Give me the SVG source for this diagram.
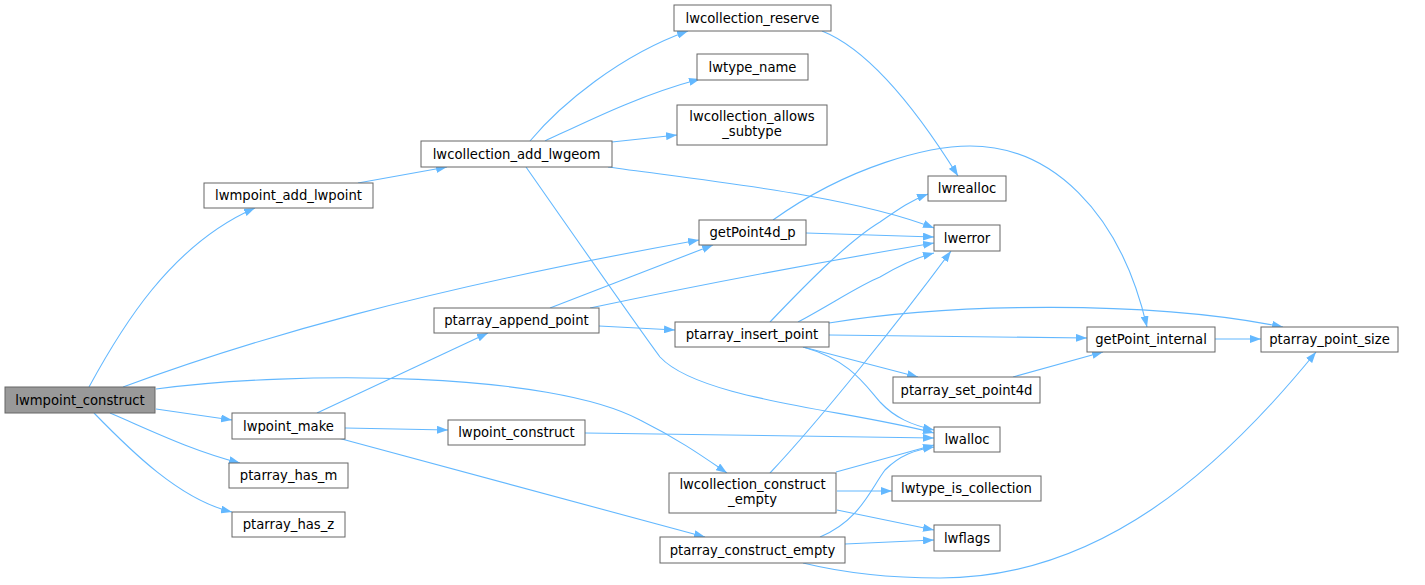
<svg xmlns="http://www.w3.org/2000/svg" width="1425" height="585" viewBox="0 0 1425 585">
<style>
.n rect{fill:#fff;stroke:#666;stroke-width:1}
.n.root rect{fill:#999}
.n text{font-family:"DejaVu Sans",sans-serif;font-size:13.2px;fill:#000;text-anchor:middle}
#edges path{fill:none;stroke:#63b8ff;stroke-width:1.1;marker-end:url(#a)}
</style>
<defs>
<marker id="a" viewBox="0 0 11 8" refX="11" refY="4" markerWidth="11" markerHeight="8" markerUnits="userSpaceOnUse" orient="auto"><path d="M0,0 L11,4 L0,8z" fill="#63b8ff"/></marker>
</defs>
<rect width="1425" height="585" fill="#fff"/>
<g id="edges">
<path d="M89,387 C120,330 170,245 255,208"/>
<path d="M123,387 C250,340 420,290 699,240"/>
<path d="M156,389 C300,370 550,372 640,420 C680,440 705,458 727,473"/>
<path d="M156,409 L232,420"/>
<path d="M110,413 C150,430 190,450 240,463"/>
<path d="M94,413 C130,450 180,500 232,512"/>
<path d="M358,183 L447,167"/>
<path d="M530,141 C560,105 620,55 688,31"/>
<path d="M545,141 C590,120 640,95 700,79"/>
<path d="M612,142 L677,135"/>
<path d="M608,167 C700,180 850,195 934,228"/>
<path d="M526,167 C570,230 640,330 660,357 C700,400 850,410 934,433"/>
<path d="M822,31 C870,50 920,115 958,176"/>
<path d="M773,220 C850,165 930,146 970,146 C1050,146 1120,210 1147,327"/>
<path d="M806,233 L934,237"/>
<path d="M550,308 L713,245"/>
<path d="M590,308 C700,285 820,262 934,243"/>
<path d="M599,326 L675,330"/>
<path d="M770,322 C810,280 850,240 880,222 C900,208 912,200 928,194"/>
<path d="M798,322 C830,305 860,285 880,277 C900,265 915,258 934,253"/>
<path d="M829,323 C950,303 1150,300 1283,327"/>
<path d="M829,335 L1087,338"/>
<path d="M803,347 L918,377"/>
<path d="M803,347 C850,360 865,385 880,402 C895,418 912,425 934,430"/>
<path d="M1013,377 L1103,352"/>
<path d="M1215,339 L1261,339"/>
<path d="M770,473 C820,420 900,320 951,251"/>
<path d="M803,563 C840,572 880,578 940,578 C1100,578 1220,470 1316,352"/>
<path d="M317,413 L488,333"/>
<path d="M345,428 L448,430"/>
<path d="M338,438 L705,537"/>
<path d="M585,433 L934,438"/>
<path d="M836,472 L934,445"/>
<path d="M837,491 L892,491"/>
<path d="M837,510 L934,530"/>
<path d="M820,537 C860,520 870,490 885,470 C900,455 915,450 934,447"/>
<path d="M845,544 L934,540"/>
</g>
<g id="n0" class="n root"><rect x="5" y="387" width="150" height="26"/><text x="80" y="404.5">lwmpoint_construct</text></g>
<g id="n1" class="n"><rect x="204" y="183" width="169" height="25"/><text x="288.5" y="200">lwmpoint_add_lwpoint</text></g>
<g id="n2" class="n"><rect x="421" y="141" width="191" height="26"/><text x="516.5" y="158.5">lwcollection_add_lwgeom</text></g>
<g id="n3" class="n"><rect x="674" y="5" width="157" height="26"/><text x="752.5" y="22.5">lwcollection_reserve</text></g>
<g id="n4" class="n"><rect x="697" y="54" width="111" height="26"/><text x="752.5" y="71.5">lwtype_name</text></g>
<g id="n5" class="n"><rect x="677" y="105" width="150" height="40"/><text x="752" y="121">lwcollection_allows</text><text x="752" y="135.5">_subtype</text></g>
<g id="n6" class="n"><rect x="928" y="176" width="78" height="25"/><text x="967" y="193">lwrealloc</text></g>
<g id="n7" class="n"><rect x="934" y="225" width="66" height="26"/><text x="967" y="242.5">lwerror</text></g>
<g id="n8" class="n"><rect x="699" y="220" width="107" height="25"/><text x="752.5" y="237">getPoint4d_p</text></g>
<g id="n9" class="n"><rect x="434" y="308" width="165" height="25"/><text x="516.5" y="325">ptarray_append_point</text></g>
<g id="n10" class="n"><rect x="675" y="322" width="154" height="25"/><text x="752" y="339">ptarray_insert_point</text></g>
<g id="n11" class="n"><rect x="1087" y="327" width="128" height="25"/><text x="1151" y="344">getPoint_internal</text></g>
<g id="n12" class="n"><rect x="1261" y="327" width="137" height="25"/><text x="1329.5" y="344">ptarray_point_size</text></g>
<g id="n13" class="n"><rect x="893" y="377" width="147" height="26"/><text x="966.5" y="394.5">ptarray_set_point4d</text></g>
<g id="n14" class="n"><rect x="934" y="427" width="66" height="25"/><text x="967" y="444">lwalloc</text></g>
<g id="n15" class="n"><rect x="892" y="476" width="149" height="25"/><text x="966.5" y="493">lwtype_is_collection</text></g>
<g id="n16" class="n"><rect x="934" y="525" width="66" height="26"/><text x="967" y="542.5">lwflags</text></g>
<g id="n17" class="n"><rect x="232" y="413" width="113" height="26"/><text x="288.5" y="430.5">lwpoint_make</text></g>
<g id="n18" class="n"><rect x="229" y="463" width="119" height="25"/><text x="288.5" y="480">ptarray_has_m</text></g>
<g id="n19" class="n"><rect x="232" y="512" width="113" height="25"/><text x="288.5" y="529">ptarray_has_z</text></g>
<g id="n20" class="n"><rect x="448" y="420" width="137" height="25"/><text x="516.5" y="437">lwpoint_construct</text></g>
<g id="n21" class="n"><rect x="669" y="473" width="167" height="40"/><text x="752.5" y="489">lwcollection_construct</text><text x="752.5" y="503.5">_empty</text></g>
<g id="n22" class="n"><rect x="660" y="537" width="185" height="26"/><text x="752.5" y="554.5">ptarray_construct_empty</text></g>
</svg>
